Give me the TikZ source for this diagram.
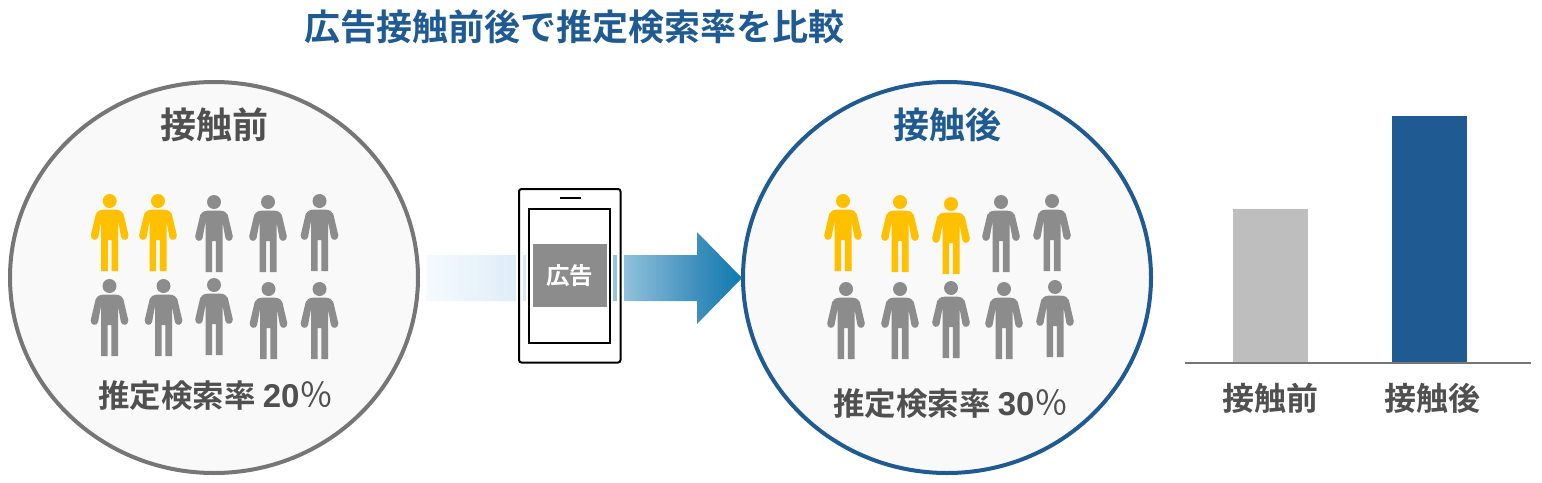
\documentclass[tikz,border=0pt]{standalone}
\usepackage{fontspec}
\usetikzlibrary{shapes.geometric}
\setmainfont{Liberation Sans}
\newfontfamily\cjk{Noto Sans CJK JP}[BoldFont={Noto Sans CJK JP Bold}]
\definecolor{navy}{HTML}{1F5B92}
\definecolor{ringgray}{HTML}{767676}
\definecolor{txtgray}{HTML}{505050}
\definecolor{pgray}{HTML}{8C8C8C}
\definecolor{pyellow}{HTML}{FFC000}
\definecolor{circfill}{HTML}{F9F9F9}
\definecolor{barlight}{HTML}{BEBEBE}
\definecolor{gA}{HTML}{F5FAFF}
\definecolor{gB}{HTML}{DFEDF7}
\definecolor{gC}{HTML}{8FC0DC}
\definecolor{gD}{HTML}{3E8FBC}
\definecolor{gE}{HTML}{0E7AB0}
\pgfdeclarehorizontalshading{arrowfade}{100bp}{color(0bp)=(gA); color(25bp)=(gA); color(39.2bp)=(gB); color(56.5bp)=(gC); color(67.9bp)=(gD); color(75bp)=(gE); color(100bp)=(gE)}
\tikzset{
  ring/.style={ellipse,minimum width=408pt,minimum height=391pt,inner sep=0pt,line width=4pt,fill=circfill},
  label/.style={font=\cjk\bfseries\fontsize{#1}{#1}\selectfont,inner sep=0pt,text=txtgray},
  person/.pic={
    \fill[#1] (0,0) circle (7);
    \fill[#1] (-8.5,70) -- (-8.5,20) -- (-11.4,36) .. controls (-12.5,40.5) and (-19.2,39.5) .. (-18.8,34.2)
      -- (-13.8,13) .. controls (-13,10.5) and (-10,8.8) .. (-6,8.6) -- (6,8.6)
      .. controls (10,8.8) and (13,10.5) .. (13.8,13) -- (18.8,34.2)
      .. controls (19.2,39.5) and (12.5,40.5) .. (11.4,36) -- (8.5,20) -- (8.5,70)
      -- (1.8,70) -- (1.8,39) -- (-1.8,39) -- (-1.8,70) -- cycle;
  },
  ratetext/.style={font=\cjk\bfseries\fontsize{31.5}{31.5}\selectfont,inner sep=0pt,text=txtgray},
}
\newcommand{\ratenum}[1]{{\fontspec{Liberation Sans}\bfseries\fontsize{33}{33}\selectfont #1}{\cjk\mdseries\fontsize{34}{34}\selectfont ％}}
\begin{document}
\begin{tikzpicture}[x=1pt,y=-1pt]
\useasboundingbox (0,0) rectangle (1542,482);
\fill[white] (0,0) rectangle (1542,482);
\node[label=36,text=navy] (title) at (574,27) {広告接触前後で推定検索率を比較};
% circles
\node[ring,draw=ringgray] (before) at (214,277.5) {};
\node[ring,draw=navy] (after) at (947,277.5) {};
\node[label=36] (beforelabel) at (214.5,125) {接触前};
\node[label=36,text=navy] (afterlabel) at (947,125) {接触後};
% people
\foreach \x/\y/\c in {109.7/201/pyellow,158/201/pyellow,214/202/pgray,268/202/pgray,319.5/201/pgray,
  109.5/286/pgray,163.5/286/pgray,214/285/pgray,268.5/289/pgray,319.5/289/pgray,
  843/201/pyellow,900/202/pyellow,951/204/pyellow,1001/202/pgray,1052/201/pgray,
  846/289/pgray,900/289/pgray,951/288/pgray,1004/289/pgray,1055/287/pgray}
  \pic at (\x,\y) {person=\c};
\node[ratetext,anchor=west] (ratea) at (98,396) {推定検索率 \ratenum{20}};
\node[ratetext,anchor=west] (rateb) at (833,404) {推定検索率 \ratenum{30}};
% arrow
\path[shading=arrowfade]
  (426,255) -- (697,255) -- (697,232) -- (742,278) -- (697,324) -- (697,301) -- (426,301) -- cycle;
% phone
\draw[white,line width=7pt] (519,189) rectangle (620.5,362.5);
\draw[black,line width=2pt,rounded corners=2.5pt] (519,189) rectangle (620.5,362.5);
\fill[white] (526,205) rectangle (613,347);
\draw[black,line width=2pt,fill=white] (529,208.5) rectangle (610,343);
\draw[black,line width=2pt] (560,198) -- (581,198);
\node[fill=pgray,minimum width=74pt,minimum height=63pt,inner sep=0pt,font=\cjk\bfseries\fontsize{23.5}{23.5}\selectfont,text=white] (ad) at (569.5,275.5) {広告};
% chart
\fill[barlight] (1233,209) rectangle (1308,363);
\fill[navy] (1392,116) rectangle (1467,363);
\draw[ringgray,line width=1.5pt] (1185,363) -- (1531,363);
\node[label=32] (barbefore) at (1270.5,398) {接触前};
\node[label=32] (barafter) at (1432.5,398) {接触後};
\end{tikzpicture}
\end{document}
